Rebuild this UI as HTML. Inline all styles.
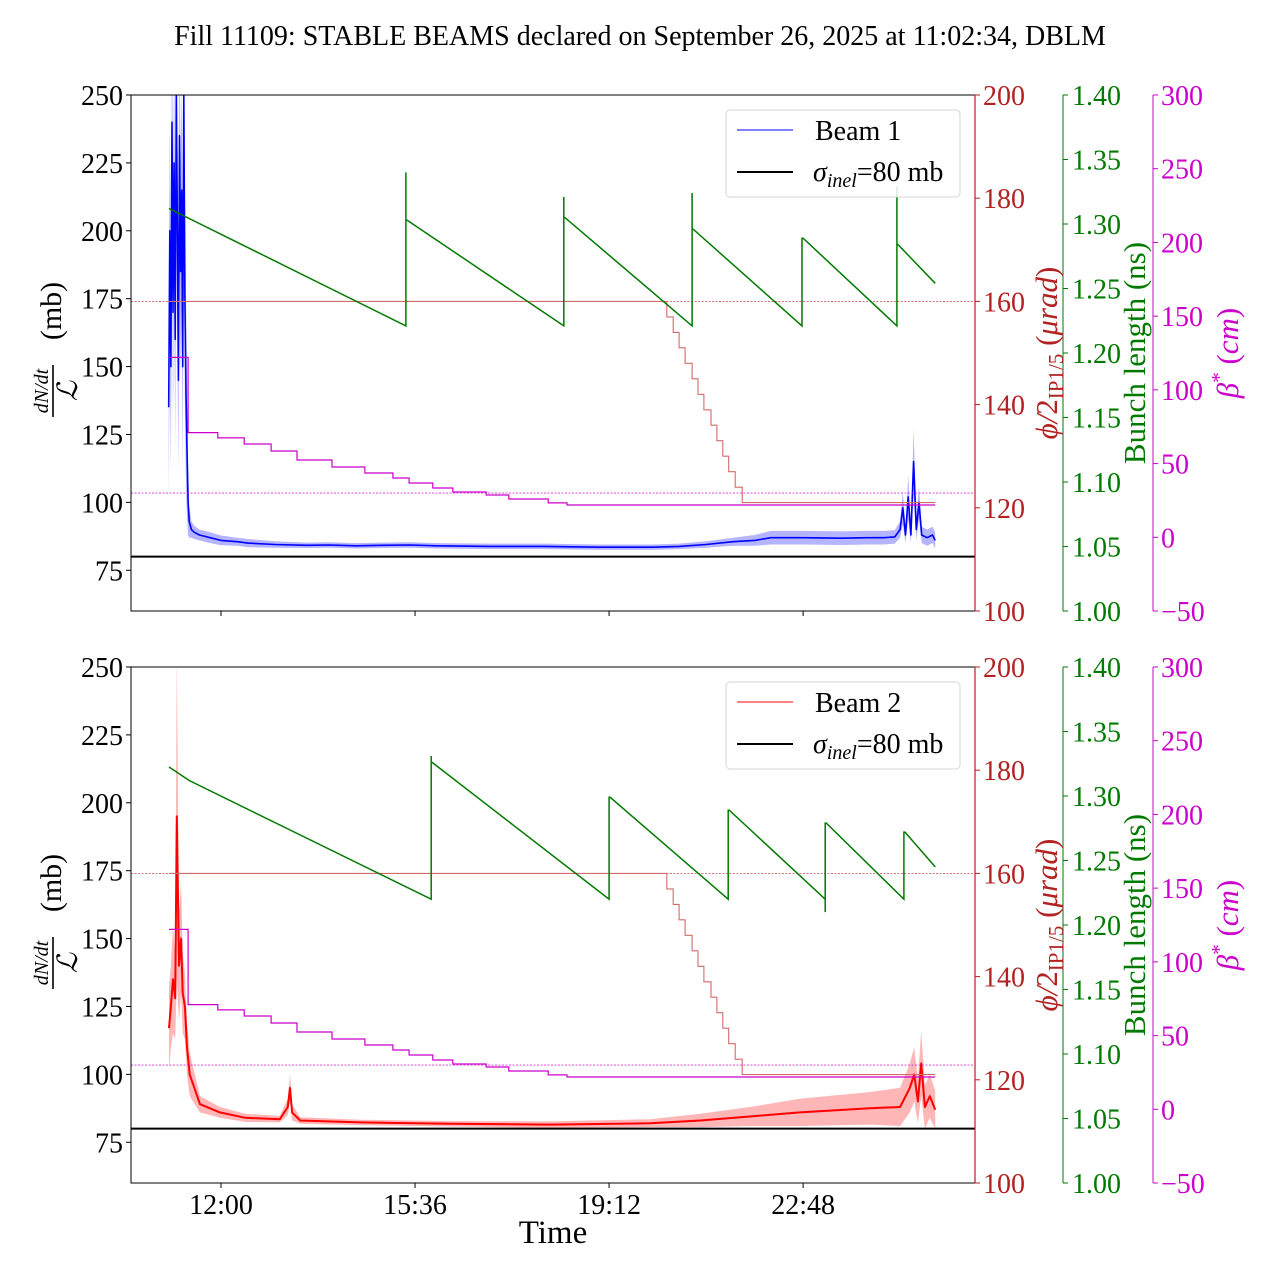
<!DOCTYPE html>
<html>
<head>
<meta charset="utf-8">
<style>
html,body{margin:0;padding:0;background:#fff;}
svg{display:block;font-family:"Liberation Serif","DejaVu Serif",serif;}
</style>
</head>
<body>
<svg id="fig" xmlns="http://www.w3.org/2000/svg" width="1280" height="1280" viewBox="0 0 1280 1280">
<rect x="0" y="0" width="1280" height="1280" fill="#fff"/>
<text x="640" y="45" font-size="28" text-anchor="middle">Fill 11109: STABLE BEAMS declared on September 26, 2025 at 11:02:34, DBLM</text>
<text x="553" y="1243" font-size="33" text-anchor="middle">Time</text>
</svg>
<script>
// ---- data (hours since midnight of fill day; >24 = next day) ----
const xTickHours = [12, 15.6, 19.2, 22.8];
const xTickLabels = ["12:00", "15:36", "19:12", "22:48"];
const leftTicks = [75, 100, 125, 150, 175, 200, 225, 250];
const redTicks = [100, 120, 140, 160, 180, 200];
const greenTicks = [1.00, 1.05, 1.10, 1.15, 1.20, 1.25, 1.30, 1.35, 1.40];
const greenTickLabels = ["1.00","1.05","1.10","1.15","1.20","1.25","1.30","1.35","1.40"];
const magTicks = [-50, 0, 50, 100, 150, 200, 250, 300];
const magTickLabels = ["\u221250","0","50","100","150","200","250","300"];

const b1Time = [11.03,11.05,11.07,11.09,11.11,11.13,11.15,11.17,11.19,11.21,11.23,11.25,11.27,11.29,11.31,11.33,11.35,11.37,11.39,11.41,
 11.45,11.5,11.6,11.8,12.0,12.3,12.5,13.0,13.6,14.0,14.5,15.0,15.5,16.0,17.0,18.0,19.0,20.0,20.5,21.0,21.5,21.9,22.2,22.8,23.5,24.0,24.3,24.5,
 24.6,24.65,24.7,24.75,24.8,24.85,24.9,24.95,25.0,25.1,25.2,25.25];
const b1Value = [135,200,150,240,170,225,160,250,205,145,235,185,215,150,250,175,140,120,100,93,
 90,89,88,87,86,85.5,85,84.5,84.2,84.3,84,84.2,84.3,84,83.8,83.8,83.5,83.5,83.8,84.5,85.5,86,87,87,86.8,87,87,87.3,
 90,98,88,102,88,115,90,100,88,87,88,86];
const b1Err = [35,40,40,40,40,40,40,40,40,35,40,40,40,40,40,40,35,25,12,6,
 3,2.5,2,2,1.8,1.5,1.5,1.2,1,1,1,1,1,1,1,1,1,1,1,1.2,1.5,2,2.5,2.5,2.5,2.5,2.5,2.5,
 3,6,3,8,3,12,4,6,3,3,3,3];

const b2Time = [11.035,11.07,11.11,11.15,11.18,11.22,11.26,11.29,11.33,11.37,11.42,11.61,11.98,12.45,13.09,13.24,13.28,13.32,13.47,14.58,
 16.25,18.1,19.96,20.89,21.81,22.74,24.04,24.6,24.78,24.86,24.93,24.99,25.06,25.15,25.25];
const b2Value = [117,125,135,128,195,140,150,130,125,110,100,89,86,84,83.5,88,95,86,83,82.3,
 81.8,81.5,82,83,84.5,86,87.5,88,95,100,90,104,88,92,87];
const b2Err = [15,15,20,15,60,20,20,15,12,10,8,3,2,1.5,1.2,3,5,3,1.2,1,
 1,1.2,1.5,2.5,3.5,5,6,7,9,10,8,12,8,8,7];

const bl1Time = [11.035,15.43,15.43,15.43,15.45,18.36,18.36,18.36,18.38,20.74,20.74,20.74,20.76,22.78,22.78,22.80,24.54,24.54,24.54,24.56,25.25];
const bl1Value = [1.312,1.221,1.340,1.303,1.303,1.221,1.321,1.305,1.305,1.221,1.324,1.296,1.296,1.221,1.289,1.289,1.221,1.329,1.284,1.284,1.254];
const bl2Time = [11.035,11.41,15.90,15.90,15.90,15.92,19.20,19.20,19.22,21.41,21.41,21.43,23.21,23.21,23.21,23.23,24.67,24.67,24.69,25.25];
const bl2Value = [1.3225,1.312,1.220,1.331,1.326,1.326,1.220,1.299,1.299,1.220,1.289,1.289,1.220,1.210,1.279,1.279,1.220,1.272,1.272,1.245];

const xingTime = [11.035,20.27,20.39,20.50,20.61,20.74,20.85,20.96,21.09,21.20,21.31,21.42,21.54,21.67];
const xingValue = [160,157,154,151,148,145,142,139,136,133,130,127,124,121];
const betaTime = [11.035,11.39,11.94,12.43,12.93,13.41,14.06,14.67,15.19,15.49,15.93,16.30,16.92,17.34,18.07,18.42];
const betaValue = [122,71,67.4,63.3,58.5,52.4,47.7,43.6,40.2,36.8,33.4,30.7,28.7,26.0,23.3,21.9];
const endTime = 25.25;
const sigmaInel = 80;
const xingRef = 160;
const betaRef = 30;

// ---- layout ----
const NS = "http://www.w3.org/2000/svg";
const svg = document.getElementById("fig");
const X0 = 131, X1 = 975, H = 516;
const FS = 28;
const xs = h => 221 + (h - 12) * 53.9;
function mk(tag, attrs, parent) {
  const e = document.createElementNS(NS, tag);
  for (const k in attrs) e.setAttribute(k, attrs[k]);
  (parent || svg).appendChild(e);
  return e;
}

function panel(top, idx, beamName, color, bandColor, lineW, tArr, vArr, eArr, gT, gV, showXLabels) {
  const bot = top + H;
  const yl = v => bot - (v - 60) / 190 * H;
  const yr = v => bot - (v - 100) / 100 * H;
  const yg = v => bot - (v - 1) / 0.4 * H;
  const ym = v => bot - (v + 50) / 350 * H;
  const g = mk("g", {});
  
  
  const cp = mk("clipPath", {id: "clip" + idx}, g);
  mk("rect", {x: X0, y: top, width: X1 - X0, height: H}, cp);
  const plot = mk("g", {"clip-path": "url(#clip" + idx + ")"}, g);
  
  

  let up = [], lo = [];
  for (let i = 0; i < tArr.length; i++) {
    up.push(xs(tArr[i]).toFixed(1) + "," + yl(vArr[i] + eArr[i]).toFixed(1));
    lo.unshift(xs(tArr[i]).toFixed(1) + "," + yl(vArr[i] - eArr[i]).toFixed(1));
  }
  const band = mk("polygon", {points: up.concat(lo).join(" "), fill: bandColor, stroke: "none"}, plot);
  
  
  const lp = tArr.map((t, i) => xs(t).toFixed(1) + "," + yl(vArr[i]).toFixed(1)).join(" ");
  const line = mk("polyline", {points: lp, fill: "none", stroke: color, "stroke-width": lineW, "stroke-linejoin": "round"}, plot);
  
  

  const sig = mk("line", {x1: X0, x2: X1, y1: yl(sigmaInel), y2: yl(sigmaInel), stroke: "#000", "stroke-width": 2}, plot);
  
  

  const lg = mk("g", {}, g);
  
  
  mk("rect", {x: 726, y: top + 15, width: 234, height: 87, rx: 4, fill: "#fff", "fill-opacity": 0.85, stroke: "#d4d4d4", "stroke-width": 1}, lg);
  const le1 = mk("line", {x1: 737, x2: 793, y1: top + 35, y2: top + 35, stroke: color, "stroke-width": 1}, lg);
  
  
  const lt1 = mk("text", {x: 815, y: top + 45, "font-size": FS}, lg);
  lt1.textContent = beamName;
  
  
  const le2 = mk("line", {x1: 737, x2: 793, y1: top + 77, y2: top + 77, stroke: "#000", "stroke-width": 2}, lg);
  
  
  const lt2 = mk("text", {x: 813, y: top + 86, "font-size": FS}, lg);
  lt2.innerHTML = '<tspan font-style="italic">σ</tspan><tspan font-style="italic" font-size="20" dy="6">inel</tspan><tspan dy="-6">=80 mb</tspan>';
  
  

  const refR = mk("line", {x1: X0, x2: X1, y1: yr(xingRef), y2: yr(xingRef), stroke: "#b22222", "stroke-opacity": 0.8, "stroke-width": 0.8, "stroke-dasharray": "2,1.5"}, plot);
  
  
  let xp = [];
  for (let i = 0; i < xingTime.length; i++) {
    const tEnd = i + 1 < xingTime.length ? xingTime[i + 1] : endTime;
    xp.push(xs(xingTime[i]).toFixed(1) + "," + yr(xingValue[i]).toFixed(1));
    xp.push(xs(tEnd).toFixed(1) + "," + yr(xingValue[i]).toFixed(1));
  }
  const xl = mk("polyline", {points: xp.join(" "), fill: "none", stroke: "#d46a6a", "stroke-width": 1.1}, plot);
  
  

  const gp = gT.map((t, i) => xs(t).toFixed(1) + "," + yg(gV[i]).toFixed(1)).join(" ");
  const gl = mk("polyline", {points: gp, fill: "none", stroke: "#007a00", "stroke-width": 1.5}, plot);
  
  

  const refM = mk("line", {x1: X0, x2: X1, y1: ym(betaRef), y2: ym(betaRef), stroke: "#d000d0", "stroke-opacity": 0.8, "stroke-width": 0.8, "stroke-dasharray": "2,1.5"}, plot);
  
  
  let mp = [];
  for (let i = 0; i < betaTime.length; i++) {
    const tEnd = i + 1 < betaTime.length ? betaTime[i + 1] : endTime;
    mp.push(xs(betaTime[i]).toFixed(1) + "," + ym(betaValue[i]).toFixed(1));
    mp.push(xs(tEnd).toFixed(1) + "," + ym(betaValue[i]).toFixed(1));
  }
  const ml = mk("polyline", {points: mp.join(" "), fill: "none", stroke: "#cc00cc", "stroke-width": 1.2}, plot);
  
  

  const fr = mk("rect", {x: X0, y: top, width: X1 - X0, height: H, fill: "none", stroke: "#000", "stroke-width": 1}, g);
  
  
  const rs = mk("line", {x1: X1, x2: X1, y1: top, y2: bot, stroke: "#b22222", "stroke-width": 1.2}, g);
  
  
  const gs = mk("line", {x1: 1063, x2: 1063, y1: top, y2: bot, stroke: "#007a00", "stroke-width": 1}, g);
  
  
  const ms = mk("line", {x1: 1153, x2: 1153, y1: top, y2: bot, stroke: "#cc00cc", "stroke-width": 1}, g);
  
  

  leftTicks.forEach(v => {
    const y = yl(v);
    const tk = mk("line", {x1: 126, x2: X0, y1: y, y2: y, stroke: "#000"}, g);
    
    
    const tx = mk("text", {x: 123, y: y + 10, "font-size": FS, "text-anchor": "end"}, g);
    tx.textContent = String(v);
    
    
  });
  redTicks.forEach(v => {
    const y = yr(v);
    const tk = mk("line", {x1: X1, x2: X1 + 5, y1: y, y2: y, stroke: "#b22222"}, g);
    
    
    const tx = mk("text", {x: 983, y: y + 10, "font-size": FS, fill: "#b22222"}, g);
    tx.textContent = String(v);
    
    
  });
  greenTicks.forEach((v, i) => {
    const y = yg(v);
    const tk = mk("line", {x1: 1063, x2: 1068, y1: y, y2: y, stroke: "#007a00"}, g);
    
    
    const tx = mk("text", {x: 1072, y: y + 10, "font-size": FS, fill: "#007a00"}, g);
    tx.textContent = greenTickLabels[i];
    
    
  });
  magTicks.forEach((v, i) => {
    const y = ym(v);
    const tk = mk("line", {x1: 1153, x2: 1158, y1: y, y2: y, stroke: "#cc00cc"}, g);
    
    
    const tx = mk("text", {x: 1161, y: y + 10, "font-size": FS, fill: "#cc00cc"}, g);
    tx.textContent = magTickLabels[i];
    
    
  });
  xTickHours.forEach((h, i) => {
    const x = xs(h);
    const tk = mk("line", {x1: x, x2: x, y1: bot, y2: bot + 5, stroke: "#000"}, g);
    
    
    if (showXLabels) {
      const tx = mk("text", {x: x, y: bot + 31, "font-size": FS, "text-anchor": "middle"}, g);
      tx.textContent = xTickLabels[i];
      
      
    }
  });

  const cy = top + 258;
  const yt = mk("g", {transform: "translate(0," + cy + ") rotate(-90)"}, g);
  
  
  mk("text", {x: -38, y: 48, "font-size": 20, "font-style": "italic", "text-anchor": "middle"}, yt).textContent = "dN/dt";
  mk("line", {x1: -64, x2: -12, y1: 53, y2: 53, stroke: "#000", "stroke-width": 1.6}, yt);
  mk("text", {x: -38, y: 77, "font-size": 28, "font-style": "italic", "text-anchor": "middle"}, yt).textContent = "\u2112";
  mk("text", {x: 42, y: 61, "font-size": 30, "text-anchor": "middle"}, yt).textContent = "(mb)";

  const rt = mk("text", {transform: "translate(1057," + cy + ") rotate(-90)", "font-size": 31, fill: "#b22222", "text-anchor": "middle"}, g);
  rt.innerHTML = '<tspan font-style="italic">ϕ/</tspan>2<tspan font-size="21" dy="6">IP1/5</tspan><tspan dy="-6"> (</tspan><tspan font-style="italic">μrad</tspan>)';
  
  
  const gt = mk("text", {transform: "translate(1145," + cy + ") rotate(-90)", "font-size": 31, fill: "#007a00", "text-anchor": "middle"}, g);
  gt.textContent = "Bunch length (ns)";
  
  
  const mt = mk("text", {transform: "translate(1238," + cy + ") rotate(-90)", "font-size": 31, fill: "#cc00cc", "text-anchor": "middle"}, g);
  mt.innerHTML = '<tspan font-style="italic">β</tspan><tspan font-size="21" dy="-12">*</tspan><tspan dy="12"> (</tspan><tspan font-style="italic">cm</tspan>)';
  
  
}

panel(95, 1, "Beam 1", "#0000ff", "rgba(90,90,255,0.45)", 1.6, b1Time, b1Value, b1Err, bl1Time, bl1Value, false);
panel(667, 2, "Beam 2", "#ff0000", "rgba(255,110,110,0.5)", 2, b2Time, b2Value, b2Err, bl2Time, bl2Value, true);
</script>
</body>
</html>
